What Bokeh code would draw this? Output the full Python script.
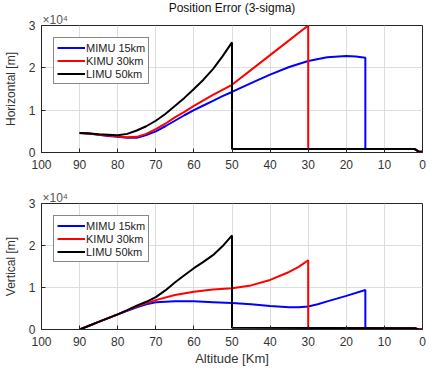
from bokeh.plotting import figure
from bokeh.layouts import column
from bokeh.models import Range1d, FixedTicker, Title
from bokeh.embed import file_html
from bokeh.resources import INLINE

# ---------------- data (values in units of 1e4 m) ----------------
names = ["MIMU 15km", "KIMU 30km", "LIMU 50km"]
colors = ["#0000ff", "#ff0000", "#000000"]

# Horizontal position error
mimu_h_alt = [90, 87.5, 85, 82.5, 80, 77.5, 75, 72.5, 70, 67.5, 65, 62.5, 60, 57.5, 55, 52.5, 50,
              45, 40, 35, 30, 25, 20, 17.5, 15, 15, 2, 1, 0]
mimu_h_val = [0.46, 0.45, 0.42, 0.39, 0.37, 0.35, 0.35, 0.41, 0.50, 0.62, 0.75, 0.88, 1.00, 1.11, 1.22, 1.33, 1.43,
              1.64, 1.84, 2.02, 2.16, 2.25, 2.28, 2.27, 2.24, 0.08, 0.08, 0.02, 0.02]
kimu_h_alt = [90, 87.5, 85, 82.5, 80, 77.5, 75, 72.5, 70, 67.5, 65, 62.5, 60, 57.5, 55, 52.5, 50,
              40, 30, 30, 2, 1, 0]
kimu_h_val = [0.46, 0.45, 0.42, 0.40, 0.38, 0.36, 0.37, 0.44, 0.55, 0.68, 0.83, 0.96, 1.10, 1.23, 1.36, 1.48, 1.60,
              2.30, 3.00, 0.08, 0.08, 0.02, 0.02]
limu_h_alt = [90, 87.5, 85, 82.5, 80, 77.5, 75, 72.5, 70, 67.5, 65, 62.5, 60, 57.5, 55, 52.5, 50,
              50, 2, 1, 0]
limu_h_val = [0.46, 0.45, 0.43, 0.42, 0.41, 0.44, 0.52, 0.62, 0.75, 0.91, 1.10, 1.29, 1.50, 1.72, 1.97, 2.27, 2.60,
              0.08, 0.08, 0.02, 0.02]

# Vertical position error
mimu_v_alt = [90, 85, 80, 75, 72.5, 70, 65, 60, 55, 50, 45, 40, 35, 32.5, 30, 27.5, 25, 20, 15,
              15, 2, 1, 0]
mimu_v_val = [0.00, 0.18, 0.36, 0.53, 0.60, 0.65, 0.67, 0.67, 0.65, 0.63, 0.60, 0.56, 0.53, 0.53, 0.55, 0.60, 0.67, 0.80, 0.94,
              0.04, 0.03, 0.00, 0.00]
kimu_v_alt = [90, 85, 80, 75, 70, 65, 60, 55, 50, 45, 40, 35, 32.5, 30,
              30, 2, 1, 0]
kimu_v_val = [0.00, 0.18, 0.36, 0.55, 0.70, 0.82, 0.90, 0.95, 0.98, 1.05, 1.18, 1.37, 1.49, 1.65,
              0.04, 0.03, 0.00, 0.00]
limu_v_alt = [90, 87.5, 85, 82.5, 80, 77.5, 75, 72.5, 70, 67.5, 65, 62.5, 60, 57.5, 55, 52.5, 50,
              50, 2, 1, 0]
limu_v_val = [0.00, 0.09, 0.18, 0.27, 0.36, 0.46, 0.57, 0.66, 0.77, 0.93, 1.12, 1.29, 1.46, 1.61, 1.77, 1.98, 2.24,
              0.04, 0.03, 0.00, 0.00]

x_ticks = [0, 10, 20, 30, 40, 50, 60, 70, 80, 90, 100]
y_ticks = [0, 1, 2, 3]
exponent_text = "\u00d710\u2074"

FONT = "Liberation Sans"
TXT = "#333333"


def make_fig(height, min_top, min_bottom, ylabel, series, xlabel=None, title=None):
    p = figure(width=426, height=height, output_backend="svg", toolbar_location=None,
               x_range=Range1d(100, 0), y_range=Range1d(0, 3),
               min_border_left=35, min_border_right=4,
               min_border_top=min_top, min_border_bottom=min_bottom,
               background_fill_color="white", border_fill_color="white")
    p.outline_line_color = "#262626"
    p.outline_line_width = 1
    if title:
        p.title.text = title
        p.title.align = "center"
        p.title.text_font = FONT
        p.title.text_font_style = "normal"
        p.title.text_font_size = "12px"
        p.title.text_color = "#111111"
        p.title.standoff = -4
    # x10^4 exponent shown above the y axis
    p.add_layout(Title(text=exponent_text, align="left", text_font=FONT, text_font_size="12px",
                       text_font_style="normal", text_color="#555555", standoff=-3, offset=1), "above")
    p.xaxis.ticker = FixedTicker(ticks=x_ticks)
    p.yaxis.ticker = FixedTicker(ticks=y_ticks)
    for ax in (p.xaxis, p.yaxis):
        ax.major_tick_in = 4
        ax.major_tick_out = 0
        ax.minor_tick_line_color = None
        ax.axis_line_color = "#262626"
        ax.major_tick_line_color = "#262626"
        ax.major_label_text_font = FONT
        ax.major_label_text_font_size = "12px"
        ax.major_label_text_color = TXT
        ax.axis_label_text_font = FONT
        ax.axis_label_text_font_style = "normal"
        ax.axis_label_text_color = TXT
    p.xaxis.major_label_standoff = 7
    p.yaxis.major_label_standoff = 6
    p.yaxis.axis_label = ylabel
    p.yaxis.axis_label_text_font_size = "12px"
    p.yaxis.axis_label_standoff = 8
    if xlabel:
        p.xaxis.axis_label = xlabel
        p.xaxis.axis_label_text_font_size = "13px"
        p.xaxis.axis_label_standoff = 2
    p.grid.grid_line_color = "#dedede"
    p.grid.grid_line_width = 1
    p.xgrid.ticker = FixedTicker(ticks=x_ticks)
    p.ygrid.ticker = FixedTicker(ticks=y_ticks)

    for (xs, ys), name, c in zip(series, names, colors):
        p.line(xs, ys, line_color=c, line_width=2, legend_label=name)

    lg = p.legend[0]
    lg.location = "top_left"
    lg.margin = 12
    lg.padding = 3
    lg.spacing = 0
    lg.label_text_font = FONT
    lg.label_text_font_size = "11px"
    lg.label_text_color = "#222222"
    lg.label_height = 13
    lg.glyph_height = 13
    lg.glyph_width = 28
    lg.label_standoff = 1
    lg.border_line_color = "#111111"
    lg.border_line_width = 1
    lg.background_fill_color = "white"
    lg.background_fill_alpha = 1
    return p


p1 = make_fig(183, 25, 31, "Horizontal [m]",
              [(mimu_h_alt, mimu_h_val), (kimu_h_alt, kimu_h_val), (limu_h_alt, limu_h_val)],
              title="Position Error (3-sigma)")
p2 = make_fig(185, 20, 38, "Vertical [m]",
              [(mimu_v_alt, mimu_v_val), (kimu_v_alt, kimu_v_val), (limu_v_alt, limu_v_val)],
              xlabel="Altitude [Km]")

layout = column(p1, p2, spacing=0)
open("out.html", "w").write(file_html(layout, INLINE))
